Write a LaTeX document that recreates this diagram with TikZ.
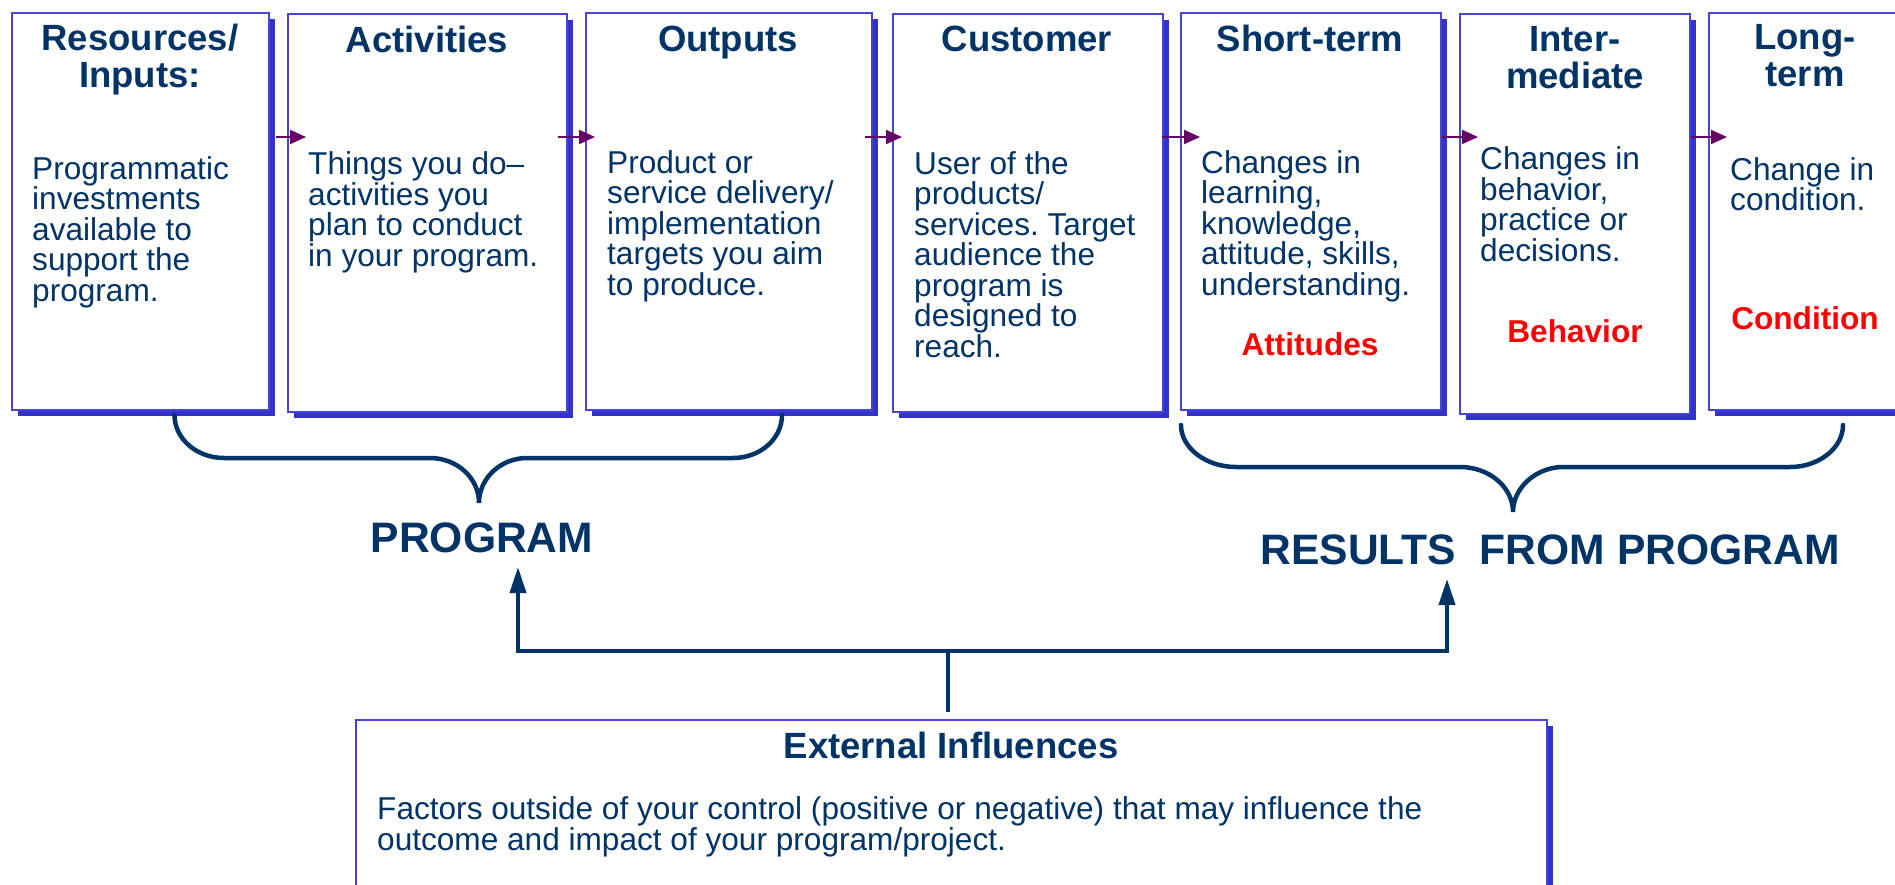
\documentclass[tikz,border=0pt]{standalone}
\usepackage{fontspec}
\setmainfont{Liberation Sans}
\usetikzlibrary{arrows.meta,shadows}
\definecolor{navy}{HTML}{003366}
\definecolor{sblue}{HTML}{3333CC}
\definecolor{bline}{HTML}{4646D2}
\definecolor{purp}{HTML}{660066}
\definecolor{rred}{HTML}{FF0000}
\frenchspacing
\tikzset{
  box/.style={draw=bline, line width=1.5pt, fill=white, anchor=north west, inner sep=0pt,
    drop shadow={shadow xshift=6pt, shadow yshift=-6pt, fill=sblue, opacity=1}},
  hd/.style={font=\fontsize{36.5}{36.3}\selectfont\bfseries, text=navy, align=center, anchor=base, inner sep=0pt},
  bd/.style={font=\fontsize{31.6}{30.5}\selectfont, text=navy, align=left, anchor=base west, inner sep=0pt},
  rd/.style={font=\fontsize{31.6}{31.6}\selectfont\bfseries, text=rred, anchor=base, inner sep=0pt},
  big/.style={font=\fontsize{42.6}{42.6}\selectfont\bfseries, text=navy, anchor=base, inner sep=0pt},
  parr/.style={draw=purp, line width=2pt, -{Triangle[length=16pt,width=14pt]}},
  brace/.style={draw=navy, line width=4.5pt, line cap=round},
  nline/.style={draw=navy, line width=4pt},
  narr/.style={draw=navy, line width=4pt, -{Triangle[length=26pt,width=16pt]}},
}
\begin{document}
\begin{tikzpicture}[x=1pt,y=-1pt]
\useasboundingbox (0,0) rectangle (1895,884);
\clip (0,0) rectangle (1895,884);
\fill[white] (0,0) rectangle (1895,884);

% boxes
\node[box, minimum width=257pt, minimum height=397pt] (b1) at (11,12) {};
\node[box, minimum width=279pt, minimum height=398pt] (b2) at (287,13) {};
\node[box, minimum width=286pt, minimum height=397pt] (b3) at (585,12) {};
\node[box, minimum width=270pt, minimum height=398pt] (b4) at (892,13) {};
\node[box, minimum width=260pt, minimum height=397pt] (b5) at (1180,12) {};
\node[box, minimum width=230pt, minimum height=400pt] (b6) at (1459,13) {};
\node[box, minimum width=200pt, minimum height=397pt] (b7) at (1708,12) {};
\node[box, minimum width=1191pt, minimum height=200pt] (ext) at (355,719) {};

% headers (multi-line nodes are placed by the baseline of their last line)
\node[hd] (h1) at (140,87) {Resources/\\Inputs:};
\node[hd] (h2) at (427,52) {Activities};
\node[hd] (h3) at (728,51) {Outputs};
\node[hd] (h4) at (1027,51.5) {Customer};
\node[hd] (h5) at (1310,51) {Short-term};
\node[hd] (h6) at (1575,88) {Inter-\\mediate};
\node[hd] (h7) at (1805,86) {Long-\\term};

% bodies
\node[bd] (t1) at (32,301) {Programmatic\\investments\\available to\\support the\\program.};
\node[bd] (t2) at (308,266) {Things you do\textendash\\activities you\\plan to conduct\\in your program.};
\node[bd] (t3) at (607,295) {Product or\\service delivery/\\implementation\\targets you aim\\to produce.};
\node[bd] (t4) at (914,357) {User of the\\products/\\services. Target\\audience the\\program is\\designed to\\reach.};
\node[bd] (t5) at (1201,295) {Changes in\\learning,\\knowledge,\\attitude, skills,\\understanding.};
\node[bd] (t6) at (1480,261) {Changes in\\behavior,\\practice or\\decisions.};
\node[bd] (t7) at (1730,210.5) {Change in\\condition.};

\node[rd] (r5) at (1310,355) {Attitudes};
\node[rd] (r6) at (1575,342) {Behavior};
\node[rd] (r7) at (1805,329) {Condition};

% flow arrows
\coordinate (ya) at (0,137);
\draw[parr] ([xshift=6pt]b1.east |- ya) -- ([xshift=19pt]b2.west |- ya);
\draw[parr] ([xshift=-10pt]b2.east |- ya) -- ([xshift=10pt]b3.west |- ya);
\draw[parr] ([xshift=-8pt]b3.east |- ya) -- ([xshift=10pt]b4.west |- ya);
\draw[parr] ([xshift=-2pt]b4.east |- ya) -- ([xshift=20pt]b5.west |- ya);
\draw[parr] (b5.east |- ya) -- ([xshift=19pt]b6.west |- ya);
\draw[parr] (b6.east |- ya) -- ([xshift=19pt]b7.west |- ya);

% braces
\draw[brace] (174.5,415) .. controls (174.5,439) and (197,458) .. (224,458) -- (430,458)
  .. controls (457,458) and (479,478) .. (479,503)
  .. controls (479,478) and (501,458) .. (527,458) -- (733,458)
  .. controls (760,458) and (782,439) .. (782,415);
\draw[brace] (1181,425) .. controls (1181,448) and (1206,467) .. (1236,467) -- (1460,467)
  .. controls (1489,467) and (1513,487) .. (1513,512)
  .. controls (1513,487) and (1537,467) .. (1563,467) -- (1790,467)
  .. controls (1819,467) and (1843,448) .. (1843,425);

\node[big] (prog) at (482,552) {PROGRAM};
\node[big] (res) at (1550,564) {RESULTS\ \ FROM PROGRAM};

% external influences
\node[hd] (eh) at (951,758) {External Influences};
\node[bd] (et) at (377,850) {Factors outside of your control (positive or negative) that may influence the\\outcome and impact of your program/project.};

\coordinate (j) at (948,651);
\coordinate (pa) at (518,567);
\coordinate (ra) at (1447,579);
\draw[nline] ([yshift=7pt]ext.north -| j) -- (j);
\draw[narr] (j) -| (pa);
\draw[narr] (j) -| (ra);
\end{tikzpicture}
\end{document}
